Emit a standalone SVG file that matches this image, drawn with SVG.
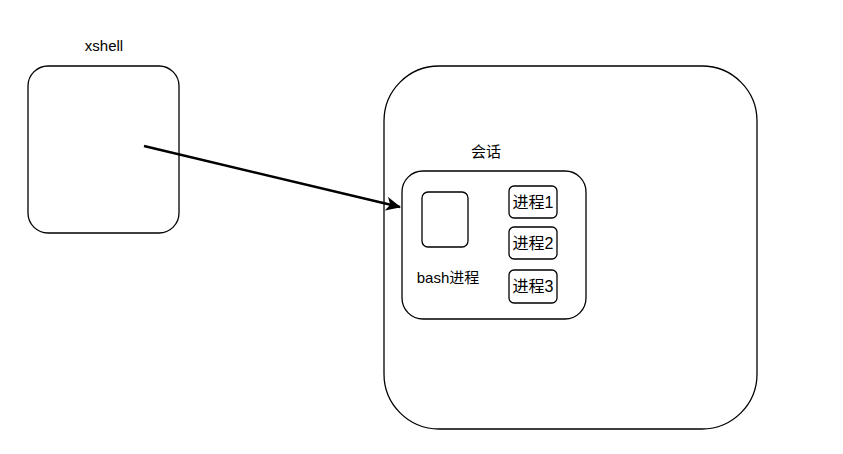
<svg xmlns="http://www.w3.org/2000/svg" width="843" height="454" viewBox="0 0 843 454">
<style>
.box{fill:#fff;stroke:#000;stroke-width:1.3}
.t{font-family:"Liberation Sans","Noto Sans CJK SC",sans-serif;font-size:15px;fill:#000;text-anchor:middle}
.p{font-family:"Liberation Sans","Noto Sans CJK SC",sans-serif;font-size:16px;fill:#000;text-anchor:middle}
</style>
<defs>
<marker id="ah" markerWidth="16" markerHeight="14" refX="14" refY="7" orient="auto" markerUnits="userSpaceOnUse">
<path d="M0,0 L15,7 L0,14 L4,7 Z" fill="#000"/>
</marker>
</defs>
<rect width="843" height="454" fill="#fff"/>
<g id="xshell">
<rect class="box" x="28" y="66" width="151" height="167" rx="20"/>
<text class="t" x="104" y="51">xshell</text>
</g>
<g id="outer">
<rect class="box" x="384" y="66" width="373" height="363" rx="55"/>
</g>
<g id="session">
<rect class="box" x="402" y="171" width="184" height="148" rx="21"/>
<text class="t" x="486" y="157">会话</text>
</g>
<g id="bash">
<rect class="box" x="422" y="192" width="46" height="55" rx="6"/>
<text class="t" x="448" y="283">bash进程</text>
</g>
<g id="p1">
<rect class="box" x="509" y="186" width="48" height="32" rx="5"/>
<text class="p" x="533" y="208">进程1</text>
</g>
<g id="p2">
<rect class="box" x="509" y="227" width="48" height="32" rx="5"/>
<text class="p" x="533" y="249">进程2</text>
</g>
<g id="p3">
<rect class="box" x="509" y="270" width="48" height="33" rx="5"/>
<text class="p" x="533" y="292">进程3</text>
</g>
<g id="connectors">
<line x1="144" y1="146" x2="400" y2="207" stroke="#000" stroke-width="2.5" marker-end="url(#ah)"/>
</g>
</svg>
